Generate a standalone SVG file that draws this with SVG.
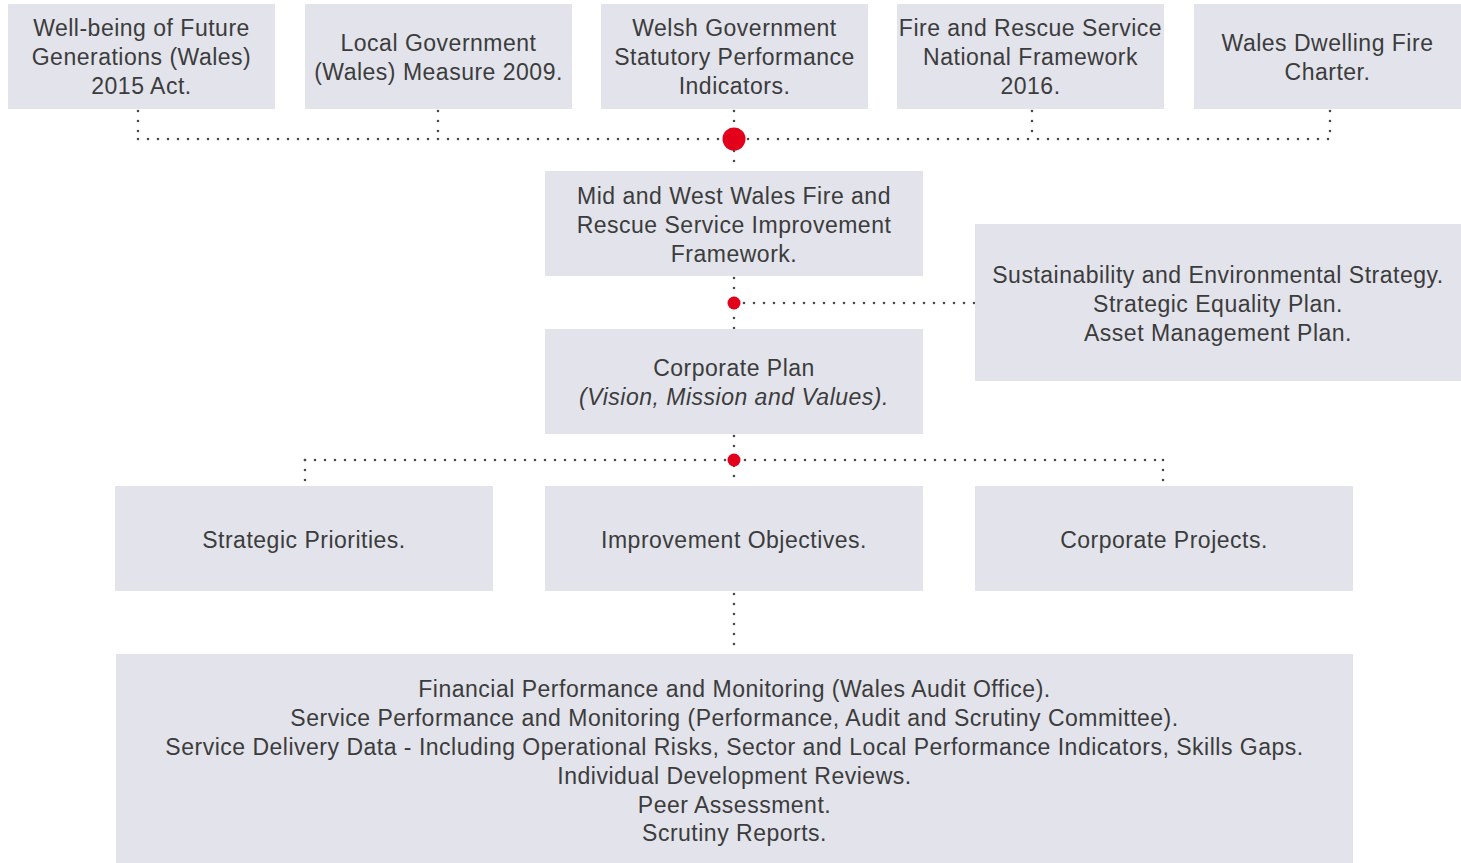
<svg xmlns="http://www.w3.org/2000/svg" width="1461" height="863" viewBox="0 0 1461 863">
<style>
.box{fill:#e2e3eb}
.t{font-family:"Liberation Sans",Arial,sans-serif;font-size:23px;letter-spacing:0.5px;fill:#3c3c3c;text-anchor:middle}
.it{font-style:italic}
.dot{fill:none;stroke:#4a4a4a;stroke-width:2.6;stroke-linecap:round;stroke-dasharray:0 10}
.red{fill:#e2001a}
</style>
<rect width="1461" height="863" fill="#ffffff"/>
<g id="connectors">
<path class="dot" d="M138 111 V139"/>
<path class="dot" d="M438 111 V139"/>
<path class="dot" d="M734 111 V171"/>
<path class="dot" d="M1032 111 V139"/>
<path class="dot" d="M1330 111 V139"/>
<path class="dot" d="M138 139 H1331"/>
<path class="dot" d="M734 278 V329"/>
<path class="dot" d="M734 303 H976"/>
<path class="dot" d="M734 436 V486"/>
<path class="dot" d="M305 460 H1164"/>
<path class="dot" d="M305 460 V486"/>
<path class="dot" d="M1163 460 V486"/>
<path class="dot" d="M734 594 V654"/>
<circle class="red" cx="734" cy="139" r="11.5"/>
<circle class="red" cx="734" cy="303" r="6.5"/>
<circle class="red" cx="734" cy="460" r="6.5"/>
</g>
<g id="n1"><rect class="box" x="8" y="4" width="267" height="105"/>
<text class="t" x="141.5" y="36">Well-being of Future</text>
<text class="t" x="141.5" y="65">Generations (Wales)</text>
<text class="t" x="141.5" y="94">2015 Act.</text></g>
<g id="n2"><rect class="box" x="305" y="4" width="267" height="105"/>
<text class="t" x="438.5" y="51">Local Government</text>
<text class="t" x="438.5" y="80">(Wales) Measure 2009.</text></g>
<g id="n3"><rect class="box" x="601" y="4" width="267" height="105"/>
<text class="t" x="734.5" y="36">Welsh Government</text>
<text class="t" x="734.5" y="65">Statutory Performance</text>
<text class="t" x="734.5" y="94">Indicators.</text></g>
<g id="n4"><rect class="box" x="897" y="4" width="267" height="105"/>
<text class="t" x="1030.5" y="36">Fire and Rescue Service</text>
<text class="t" x="1030.5" y="65">National Framework</text>
<text class="t" x="1030.5" y="94">2016.</text></g>
<g id="n5"><rect class="box" x="1194" y="4" width="267" height="105"/>
<text class="t" x="1327.5" y="51">Wales Dwelling Fire</text>
<text class="t" x="1327.5" y="80">Charter.</text></g>
<g id="n6"><rect class="box" x="545" y="171" width="378" height="105"/>
<text class="t" x="734" y="204">Mid and West Wales Fire and</text>
<text class="t" x="734" y="233">Rescue Service Improvement</text>
<text class="t" x="734" y="262">Framework.</text></g>
<g id="n7"><rect class="box" x="975" y="224" width="486" height="157"/>
<text class="t" x="1218" y="283">Sustainability and Environmental Strategy.</text>
<text class="t" x="1218" y="312">Strategic Equality Plan.</text>
<text class="t" x="1218" y="341">Asset Management Plan.</text></g>
<g id="n8"><rect class="box" x="545" y="329" width="378" height="105"/>
<text class="t" x="734" y="376">Corporate Plan</text>
<text class="t it" x="734" y="405">(Vision, Mission and Values).</text></g>
<g id="n9"><rect class="box" x="115" y="486" width="378" height="105"/>
<text class="t" x="304" y="548">Strategic Priorities.</text></g>
<g id="n10"><rect class="box" x="545" y="486" width="378" height="105"/>
<text class="t" x="734" y="548">Improvement Objectives.</text></g>
<g id="n11"><rect class="box" x="975" y="486" width="378" height="105"/>
<text class="t" x="1164" y="548">Corporate Projects.</text></g>
<g id="n12"><rect class="box" x="116" y="654" width="1237" height="209"/>
<text class="t" x="734.5" y="697">Financial Performance and Monitoring (Wales Audit Office).</text>
<text class="t" x="734.5" y="726">Service Performance and Monitoring (Performance, Audit and Scrutiny Committee).</text>
<text class="t" x="734.5" y="755">Service Delivery Data - Including Operational Risks, Sector and Local Performance Indicators, Skills Gaps.</text>
<text class="t" x="734.5" y="784">Individual Development Reviews.</text>
<text class="t" x="734.5" y="813">Peer Assessment.</text>
<text class="t" x="734.5" y="841">Scrutiny Reports.</text></g>
</svg>
